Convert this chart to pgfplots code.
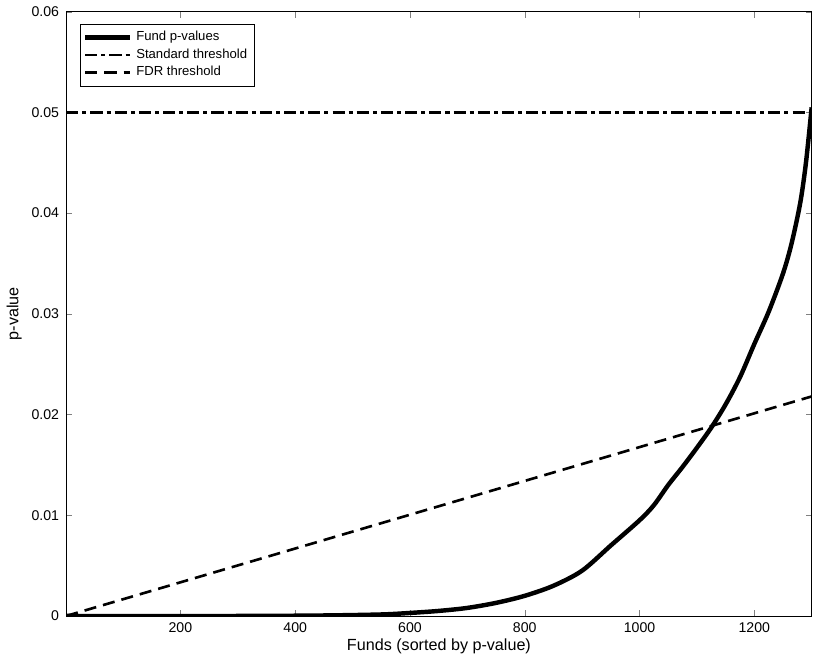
\documentclass[border=0pt]{standalone}
\usepackage{pgfplots}
\pgfplotsset{compat=1.18}
\usepackage{fontspec}
\setmainfont{Liberation Sans}
\begin{document}
\begin{tikzpicture}
\begin{axis}[
  scale only axis, width=369.5pt, height=299.5pt,
  xmin=1, xmax=1300, ymin=0, ymax=0.06,
  xtick={200,400,...,1200}, ytick={0,0.01,...,0.06},
  xticklabel style={/pgf/number format/1000 sep={}},
  yticklabel style={/pgf/number format/fixed,/pgf/number format/precision=2},
  scaled y ticks=false,
  /pgf/number format/assume math mode=true,
  tick align=inside, tick pos=both, major tick length=3pt,
  ticklabel style={font=\fontsize{7}{8}\selectfont},
  label style={font=\fontsize{8}{9}\selectfont},
  xlabel={Funds (sorted by p-value)}, ylabel={p-value},
  xlabel style={yshift=4pt}, ylabel style={yshift=-2pt},
  legend style={at={(0.018,0.98)}, anchor=north west, font=\fontsize{6.5}{7.5}\selectfont, draw=black, inner sep=1.5pt, row sep=-1.5pt},
  legend cell align=left,
  legend image post style={scale=1.3},
]
\addplot[line width=2.2pt, black, smooth] coordinates {
(1,0) (300,0) (450,0.00005) (550,0.00015) (600,0.0003) (650,0.0005) (700,0.0008) (750,0.0013) (800,0.002) (850,0.003) (900,0.0045) (950,0.007) (1000,0.0095) (1025,0.011) (1050,0.013) (1075,0.0148) (1100,0.0167) (1125,0.0187) (1150,0.021) (1175,0.0237) (1200,0.027) (1225,0.0302) (1250,0.034) (1265,0.037) (1280,0.041) (1290,0.045) (1300,0.0505)};
\addlegendentry{Fund p-values}
\addplot[line width=1.3pt, black, dash pattern=on 6pt off 2pt on 2pt off 2pt] coordinates {(1,0.05) (1300,0.05)};
\addlegendentry{Standard threshold}
\addplot[line width=1.3pt, black, dash pattern=on 6pt off 3.5pt] coordinates {(1,0) (1300,0.0218)};
\addlegendentry{FDR threshold}
\path (rel axis cs:1,1) ++(6.5pt,1.5pt) coordinate (r);
\end{axis}
\path (r) circle (0.1pt);
\end{tikzpicture}
\end{document}
